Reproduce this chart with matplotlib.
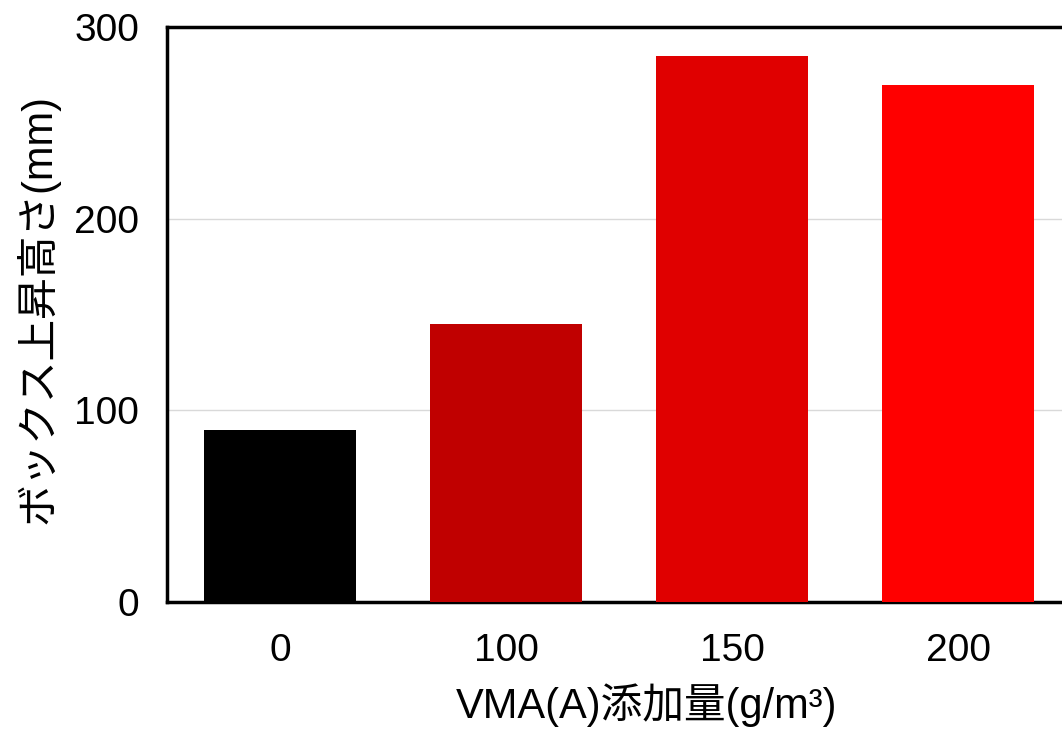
import matplotlib
matplotlib.use("Agg")
import matplotlib.pyplot as plt

plt.rcParams['font.family'] = ['Liberation Sans', 'Noto Sans CJK JP', 'DejaVu Sans']

categories = ['0', '100', '150', '200']
values = [90, 145, 285, 270]
bar_colors = ['#000000', '#C00000', '#E00000', '#FF0000']

fig = plt.figure(figsize=(10.62, 7.31), dpi=100)
# axes runs past the right edge of the figure, as in the original
ax = fig.add_axes([167 / 1062, 1 - 602 / 731, (1071 - 167) / 1062, (602 - 27) / 731])

x = range(len(categories))
ax.bar(x, values, width=0.67, color=bar_colors, zorder=3)

ax.set_xlim(-0.5, 3.5)
ax.set_ylim(0, 300)
ax.set_yticks([0, 100, 200, 300])
ax.set_xticks(list(x))
ax.set_xticklabels(categories)
ax.yaxis.grid(True, color='#d9d9d9', linewidth=1, zorder=0)

for side in ['left', 'top', 'bottom']:
    ax.spines[side].set_linewidth(2.5)
    ax.spines[side].set_color('black')
ax.spines['right'].set_visible(False)

ax.tick_params(axis='both', length=0, labelsize=28)
ax.tick_params(axis='x', pad=22)
ax.tick_params(axis='y', pad=20)

ax.set_xlabel('VMA(A)添加量(g/m³)', fontsize=30, va='center')
ax.set_ylabel('ボックス上昇高さ(mm)', fontsize=30, va='center')
ax.xaxis.set_label_coords(0.53, -0.179)
ax.yaxis.set_label_coords(-0.1427, 0.51)

fig.savefig('out.png', dpi=100)
